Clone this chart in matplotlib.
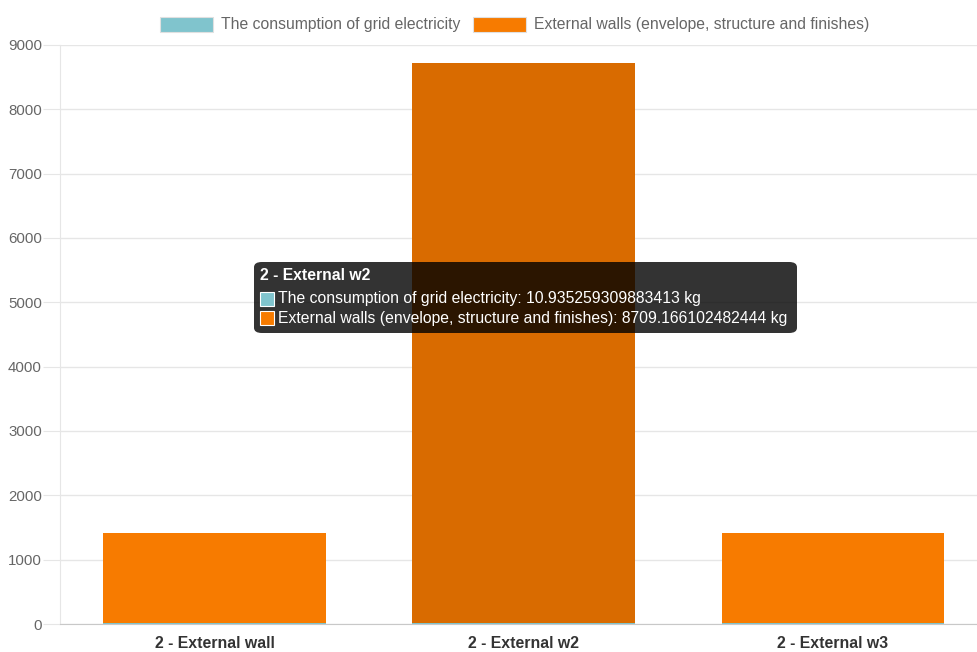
import matplotlib.pyplot as plt
from matplotlib.patches import FancyBboxPatch, Rectangle
import numpy as np

# data
categories = ['2 - External wall', '2 - External w2', '2 - External w3']
grid_electricity = [10.9, 10.935259309883413, 10.9]
external_walls = [1404, 8709.166102482444, 1404]
series_names = ['The consumption of grid electricity',
                'External walls (envelope, structure and finishes)']
y_ticks = [0, 1000, 2000, 3000, 4000, 5000, 6000, 7000, 8000, 9000]

hovered = 1
tooltip_title = '2 - External w2'
tooltip_lines = ['The consumption of grid electricity: 10.935259309883413 kg',
                 'External walls (envelope, structure and finishes): 8709.166102482444 kg']

CYAN = '#80c4cd'
ORANGE = '#f77b00'
ORANGE_HOVER = '#d96b00'
W, H = 977, 652

plt.rcParams['font.family'] = ['Liberation Sans', 'DejaVu Sans']

fig = plt.figure(figsize=(W / 100, H / 100), dpi=100)


def px(x, y):
    """pixel coords (origin top-left) -> figure fraction"""
    return x / W, 1 - y / H


left, top = px(60, 45)
right, bottom = px(987.5, 624)
ax = fig.add_axes([left, bottom, right - left, top - bottom])

x = np.arange(len(categories))
bar_colors = [ORANGE_HOVER if i == hovered else ORANGE for i in range(len(categories))]
ax.bar(x, grid_electricity, width=0.72, color=CYAN, zorder=3)
ax.bar(x, external_walls, width=0.72, bottom=grid_electricity, color=bar_colors, zorder=3)

ax.set_xlim(-0.5, len(categories) - 0.5)
ax.set_ylim(0, 9000)
ax.set_yticks(y_ticks)
ax.set_xticks(x)
ax.set_xticklabels(categories, fontsize=11.4, fontweight='bold', color='#333333')
ax.tick_params(axis='y', length=12, color='#e6e6e6', labelsize=10.8, labelcolor='#666666', pad=1)
ax.tick_params(axis='x', length=0, pad=9)
ax.grid(axis='y', color='#e6e6e6', linewidth=1, zorder=0)
for s in ['top', 'right']:
    ax.spines[s].set_visible(False)
ax.spines['left'].set_color('#e6e6e6')
ax.spines['bottom'].set_color('#c8c8c8')

# legend drawn at the top
for (bx, tx), color, name in zip([(160, 221), (473, 534)], [CYAN, ORANGE], series_names):
    fx, fy = px(bx, 32)
    fig.patches.append(Rectangle((fx, fy), 53 / W, 15 / H, transform=fig.transFigure,
                                 facecolor=color, edgecolor='#e0e0e0', linewidth=0.8))
    tx_, ty_ = px(tx, 24)
    fig.text(tx_, ty_, name, fontsize=11.3, color='#666666', va='center', ha='left')

# hover tooltip
bx0, by0 = px(254, 333)
fig.patches.append(FancyBboxPatch((bx0, by0), 543 / W, 71 / H, transform=fig.transFigure,
                                  boxstyle='round,pad=0,rounding_size=0.008',
                                  facecolor='black', alpha=0.8, edgecolor='none'))
tx0, ty0 = px(260, 275)
fig.text(tx0, ty0, tooltip_title, fontsize=11.3, fontweight='bold', color='white', va='center')
for i, (line, color) in enumerate(zip(tooltip_lines, [CYAN, ORANGE])):
    ly = 299 + i * 19
    sx, sy = px(260, ly + 7)
    fig.patches.append(Rectangle((sx, sy), 14 / W, 14 / H, transform=fig.transFigure,
                                 facecolor=color, edgecolor='white', linewidth=0.8))
    lx, lyf = px(278, ly)
    fig.text(lx, lyf, line, fontsize=11.3, color='white', va='center')

fig.savefig('out.png', dpi=100)
